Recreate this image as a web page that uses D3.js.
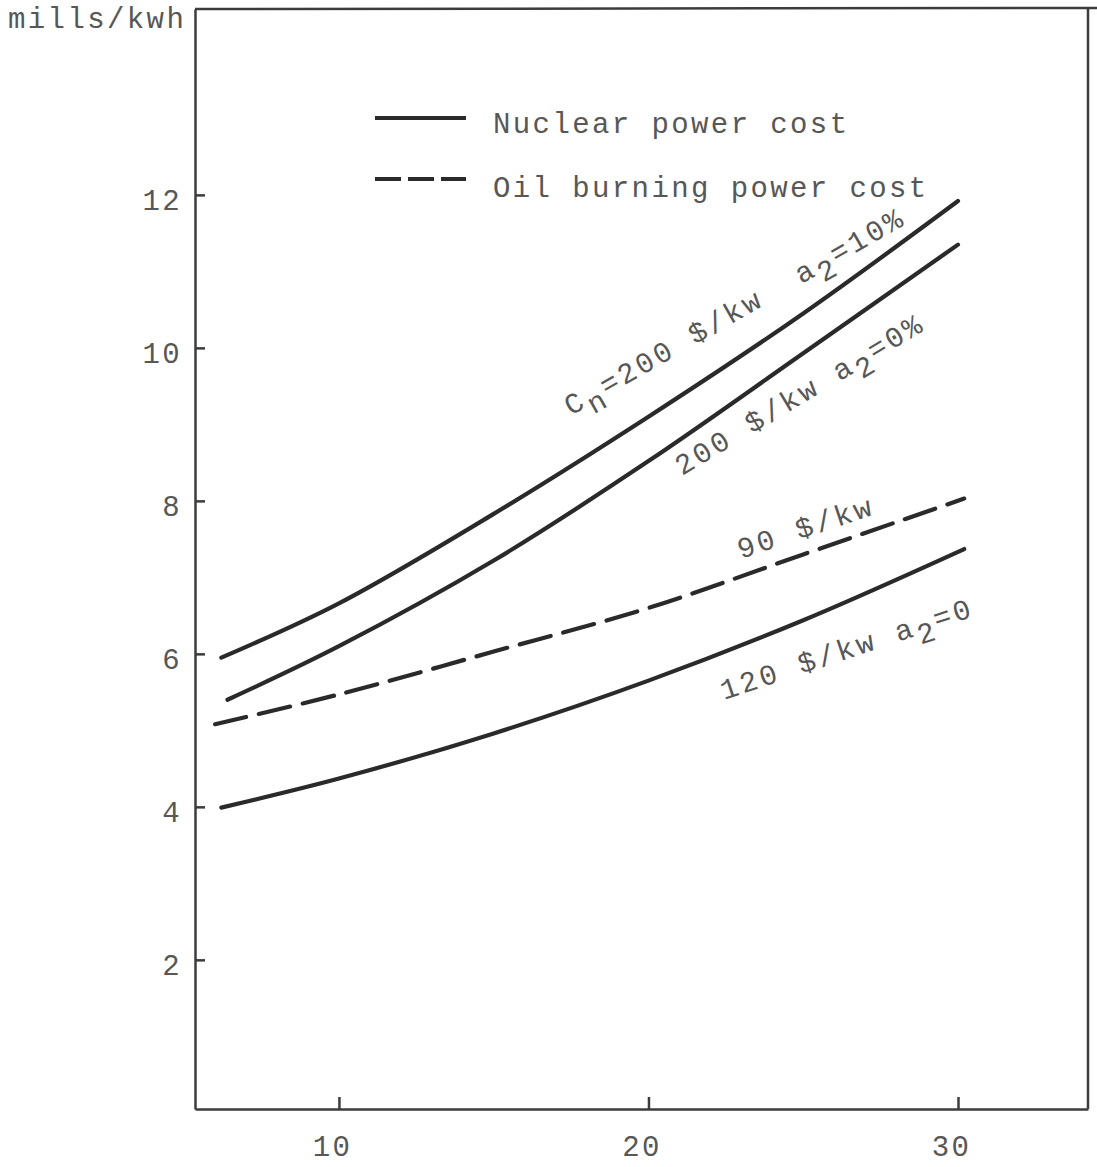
<!DOCTYPE html>
<html>
<head>
<meta charset="utf-8">
<script src="https://cdn.jsdelivr.net/npm/d3@7"></script>
<style>
  html, body { margin: 0; padding: 0; background: #fff; }
  svg { display: block; }
  text {
    font-family: "Liberation Mono", "Courier New", monospace;
    fill: #575757;
    white-space: pre;
  }
</style>
</head>
<body>
<svg id="chart" width="1097" height="1167"></svg>
<script>
// Power generation cost curves (mills/kwh)
// Nuclear, Cn = 200 $/kw, a2 = 10%
const nuclear200a10X = [6.2, 10, 15, 20, 25, 30];
const nuclear200a10Y = [5.95, 6.66, 7.83, 9.10, 10.45, 11.92];
// Nuclear, 200 $/kw, a2 = 0%
const nuclear200a0X = [6.4, 10, 15, 20, 25, 30];
const nuclear200a0Y = [5.40, 6.10, 7.22, 8.52, 9.93, 11.35];
// Oil burning, 90 $/kw
const oil90X = [6.0, 10, 15, 20, 25, 30.2];
const oil90Y = [5.08, 5.47, 6.03, 6.60, 7.30, 8.03];
// Nuclear, 120 $/kw, a2 = 0
const nuclear120a0X = [6.2, 10, 15, 20, 25, 30.2];
const nuclear120a0Y = [3.99, 4.37, 4.96, 5.65, 6.44, 7.37];

const xTicks = [10, 20, 30];
const yTicks = [2, 4, 6, 8, 10, 12];
const yUnit = "mills/kwh";
const legendLabels = ["Nuclear power cost", "Oil burning power cost"];

const svg = d3.select("#chart");

const x = d3.scaleLinear().domain([5.35, 34.2]).range([195, 1088]);
const y = d3.scaleLinear().domain([0.05, 14.43]).range([1109, 9]);

const FONT = 29;
const LS = 2.4;       // typewriter pitch for axis and legend text
const LS_NOTE = 3.0;  // slightly wider pitch for the curve notes
const INK = "#2a2a2a";
const AXIS = "#3c3c3c";
const TEXT = "#575757";

// frame: top rule and right edge
svg.append("line")
  .attr("x1", 195).attr("y1", 9).attr("x2", 1097).attr("y2", 8)
  .attr("stroke", AXIS).attr("stroke-width", 2.5);
svg.append("line")
  .attr("x1", 1088).attr("y1", 1109).attr("x2", 1088).attr("y2", 9)
  .attr("stroke", AXIS).attr("stroke-width", 2.5);

// x axis (ticks point inward)
const gx = svg.append("g")
  .attr("transform", `translate(0,${y.range()[0]})`)
  .call(d3.axisBottom(x).tickValues(xTicks).tickSizeInner(-12).tickSizeOuter(0).tickPadding(26));
gx.selectAll("text").attr("dx", -7);

// y axis (ticks point inward)
const gy = svg.append("g")
  .attr("transform", `translate(${x.range()[0]},0)`)
  .call(d3.axisLeft(y).tickValues(yTicks).tickSizeInner(-10).tickSizeOuter(0).tickPadding(13));
gy.selectAll("text").attr("dy", "0.5em");

[gx, gy].forEach(g => {
  g.select(".domain").attr("stroke", AXIS).attr("stroke-width", 2.5);
  g.selectAll(".tick line").attr("stroke", AXIS).attr("stroke-width", 2.5);
  g.selectAll("text")
    .attr("font-family", "Liberation Mono, Courier New, monospace")
    .attr("font-size", FONT)
    .attr("letter-spacing", LS)
    .attr("fill", TEXT);
});

// unit label
svg.append("text")
  .attr("x", 8).attr("y", 28)
  .attr("font-size", FONT).attr("letter-spacing", LS)
  .text(yUnit);

// curves
const line = d3.line()
  .x(d => x(d[0]))
  .y(d => y(d[1]))
  .curve(d3.curveCatmullRom.alpha(0.5));

const series = [
  { xs: nuclear200a10X, ys: nuclear200a10Y, dash: null },
  { xs: nuclear200a0X, ys: nuclear200a0Y, dash: null },
  { xs: oil90X, ys: oil90Y, dash: "32,13" },
  { xs: nuclear120a0X, ys: nuclear120a0Y, dash: null }
];

svg.append("g").selectAll("path")
  .data(series)
  .join("path")
  .attr("d", s => line(d3.zip(s.xs, s.ys)))
  .attr("fill", "none")
  .attr("stroke", INK)
  .attr("stroke-width", 4.2)
  .attr("stroke-linecap", "round")
  .attr("stroke-dasharray", s => s.dash);

// legend
const legend = svg.append("g");
legend.append("line")
  .attr("x1", 375).attr("x2", 466).attr("y1", 118).attr("y2", 118)
  .attr("stroke", INK).attr("stroke-width", 4);
legend.append("line")
  .attr("x1", 375).attr("x2", 466).attr("y1", 179).attr("y2", 179)
  .attr("stroke", INK).attr("stroke-width", 4)
  .attr("stroke-dasharray", "26,7");
legend.append("text")
  .attr("x", 493).attr("y", 133)
  .attr("font-size", FONT).attr("letter-spacing", LS)
  .text(legendLabels[0]);
legend.append("text")
  .attr("x", 493).attr("y", 197)
  .attr("font-size", FONT).attr("letter-spacing", LS)
  .text(legendLabels[1]);

// curve annotations with typed subscripts
const SUB = 10;
function annotate(px, py, angle, parts) {
  const t = svg.append("text")
    .attr("transform", `translate(${px},${py}) rotate(${angle})`)
    .attr("font-size", FONT).attr("letter-spacing", LS_NOTE);
  let level = 0;
  parts.forEach(p => {
    const target = p.sub ? SUB : 0;
    t.append("tspan").attr("dy", target - level).text(p.t);
    level = target;
  });
}

annotate(571, 416, -29.8, [
  { t: "C" }, { t: "n", sub: true }, { t: "=200 $/kw  a" }, { t: "2", sub: true }, { t: "=10%" }
]);
annotate(682, 476, -31, [
  { t: "200 $/kw a" }, { t: "2", sub: true }, { t: "=0%" }
]);
annotate(741, 559, -18.5, [
  { t: "90 $/kw" }
]);
annotate(724, 700, -18.5, [
  { t: "120 $/kw a" }, { t: "2", sub: true }, { t: "=0" }
]);
</script>
</body>
</html>
